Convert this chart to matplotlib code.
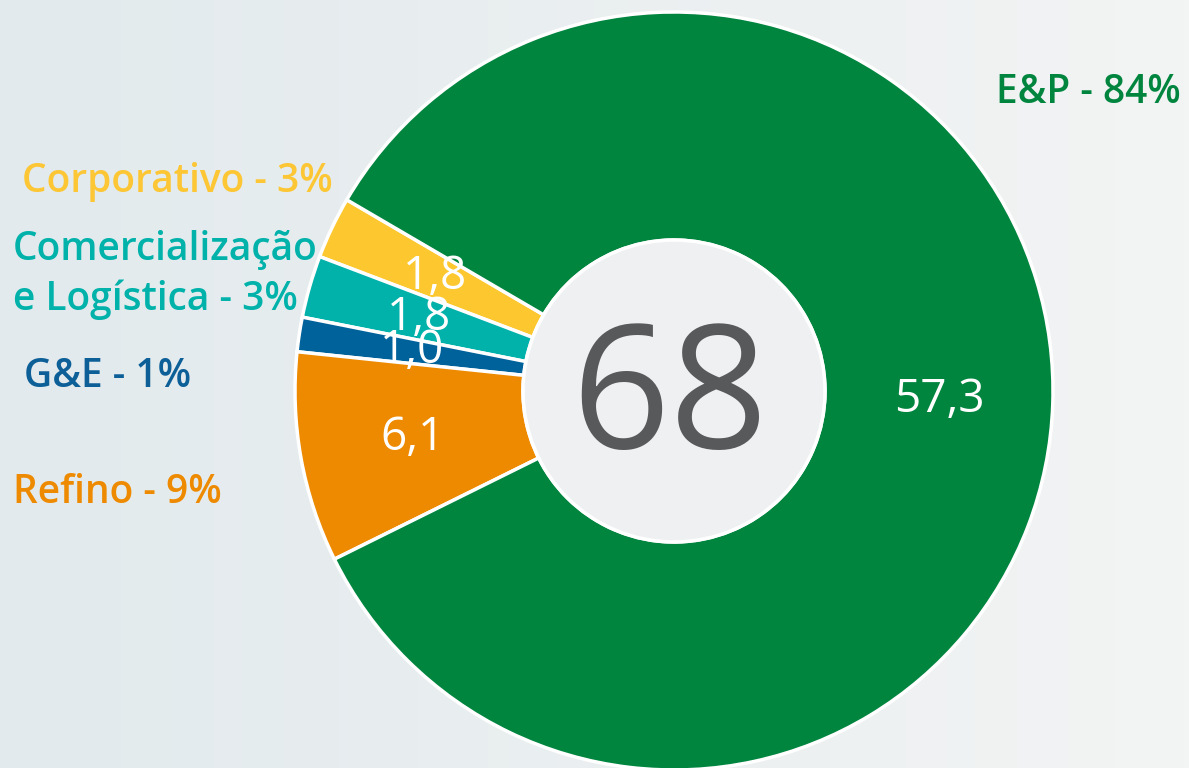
import numpy as np
import matplotlib
matplotlib.use("Agg")
import matplotlib.pyplot as plt
from matplotlib.patches import Circle
from matplotlib.colors import LinearSegmentedColormap

# Daten (Mrd. US$), gegen den Uhrzeigersinn ab Corporativo
segmentos = ["Corporativo", "Comercialização\ne Logística", "G&E", "Refino", "E&P"]
valores = [1.8, 1.8, 1.0, 6.1, 57.3]
rotulos_valor = ["1,8", "1,8", "1,0", "6,1", "57,3"]
percentuais = ["3%", "3%", "1%", "9%", "84%"]
total = "68"

cores = ["#fdc82f", "#00b2aa", "#00629b", "#ee8a00", "#00853f"]
cores_texto = ["#fcc634", "#00b2aa", "#0d5f98", "#ee8a00", "#00853f"]

W, H = 1189, 768
fig = plt.figure(figsize=(W / 100, H / 100), dpi=100)

# Hintergrund mit leichtem Verlauf
bg = fig.add_axes([0, 0, 1, 1])
grad = np.linspace(0, 1, 256).reshape(1, -1)
cmap_bg = LinearSegmentedColormap.from_list("bg", ["#e2eaed", "#f3f4f4"])
bg.imshow(grad, aspect="auto", cmap=cmap_bg, extent=[0, 1, 0, 1])
bg.axis("off")

ax = fig.add_axes([0, 0, 1, 1])
ax.patch.set_alpha(0)

cx, cy = 674, H - 391
r_out, r_in = 379, 151

wedges, _ = ax.pie(
    valores, colors=cores, startangle=149.7, counterclock=True,
    radius=r_out, center=(cx, cy), frame=True,
    wedgeprops=dict(width=r_out - r_in, edgecolor="white", linewidth=2.5),
)
ax.set_xlim(0, W)
ax.set_ylim(0, H)
ax.axis("off")

ax.add_patch(Circle((cx, cy), r_in, facecolor="#eef0f2", edgecolor="white",
                    linewidth=2.5, zorder=3))
ax.text(cx - 4, cy - 12, total, ha="center", va="center", fontsize=124,
        color="#58595b", family="Open Sans", zorder=4)

# Werte in den Segmenten
for w, txt in zip(wedges, rotulos_valor):
    ang = np.deg2rad((w.theta1 + w.theta2) / 2)
    rr = 0.70 * r_out
    ax.text(cx + rr * np.cos(ang), cy + rr * np.sin(ang), txt, ha="center",
            va="center", fontsize=33, color="white", family="Open Sans", zorder=4)

# Beschriftungen (Positionen in Pixeln)
pos_rotulos = [(22, 182, "left"), (13, 275, "left"), (24, 377, "left"),
               (13, 493, "left"), (1181, 93, "right")]
for nome, pct, cor, (x, y, ha) in zip(segmentos, percentuais, cores_texto, pos_rotulos):
    ax.text(x, H - y, f"{nome} - {pct}", ha=ha, va="center", fontsize=28,
            color=cor, family="Open Sans", weight="semibold",
            linespacing=1.3)

fig.savefig("out.png", dpi=100)
